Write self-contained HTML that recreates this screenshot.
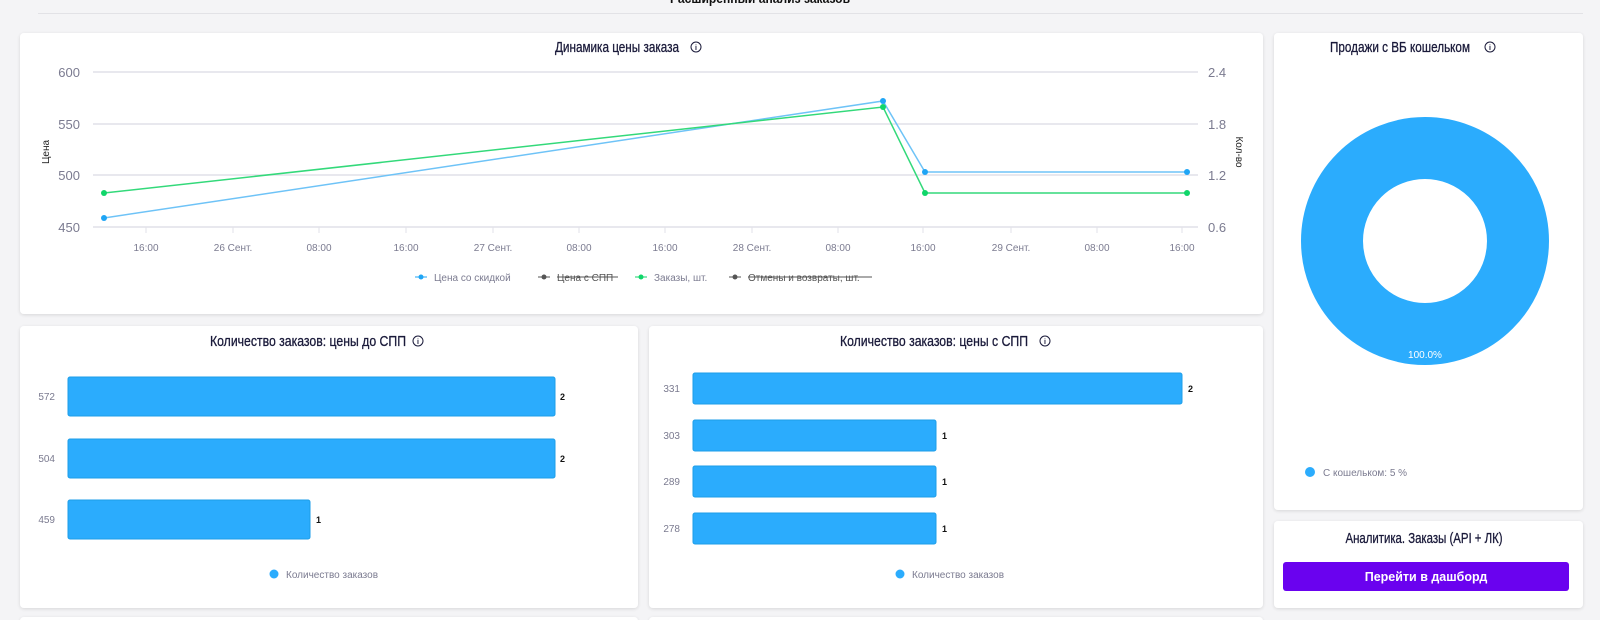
<!DOCTYPE html>
<html><head><meta charset="utf-8"><style>
html,body{margin:0;padding:0;background:#f4f4f6;}
svg{display:block;}
</style></head><body>
<svg width="1600" height="620" viewBox="0 0 1600 620" xmlns="http://www.w3.org/2000/svg" font-family="Liberation Sans, sans-serif">
<defs>
<filter id="sh" x="-5%" y="-5%" width="110%" height="110%"><feDropShadow dx="0" dy="1" stdDeviation="1.5" flood-color="#000" flood-opacity="0.12"/></filter>
</defs>
<rect width="1600" height="620" fill="#f4f4f6"/>
<text x="760" y="3" text-anchor="middle" font-size="14" font-weight="bold" fill="#111" textLength="180" lengthAdjust="spacingAndGlyphs">Расширенный анализ заказов</text>
<line x1="38" y1="13.5" x2="1583" y2="13.5" stroke="#e2e2e6"/>

<g filter="url(#sh)" fill="#fff">
<rect x="20" y="33" width="1243" height="281" rx="4"/>
<rect x="20" y="326" width="618" height="282" rx="4"/>
<rect x="649" y="326" width="614" height="282" rx="4"/>
<rect x="1274" y="33" width="309" height="477" rx="4"/>
<rect x="1274" y="521" width="309" height="87" rx="4"/>
<rect x="20" y="617" width="618" height="10" rx="4"/>
<rect x="649" y="617" width="614" height="10" rx="4"/>
</g>

<g font-size="15" fill="#1a1a3a" stroke="#1a1a3a" stroke-width="0.3">
<text x="617" y="52" text-anchor="middle" textLength="124" lengthAdjust="spacingAndGlyphs">Динамика цены заказа</text>
<text x="308" y="346" text-anchor="middle" textLength="196" lengthAdjust="spacingAndGlyphs">Количество заказов: цены до СПП</text>
<text x="934" y="346" text-anchor="middle" textLength="188" lengthAdjust="spacingAndGlyphs">Количество заказов: цены с СПП</text>
<text x="1400" y="52" text-anchor="middle" textLength="140" lengthAdjust="spacingAndGlyphs">Продажи с ВБ кошельком</text>
<text x="1424" y="543" text-anchor="middle" textLength="157" lengthAdjust="spacingAndGlyphs">Аналитика. Заказы (API + ЛК)</text>
</g>
<g fill="none" stroke="#1a1a3a" stroke-width="1">
<circle cx="696" cy="47" r="5"/><circle cx="418" cy="341" r="5"/><circle cx="1045" cy="341" r="5"/><circle cx="1490" cy="47" r="5"/>
</g>
<g fill="#1a1a3a" font-size="7" text-anchor="middle" font-weight="bold">
<text x="696" y="50">i</text><text x="418" y="344">i</text><text x="1045" y="344">i</text><text x="1490" y="50">i</text>
</g>

<g stroke="#e1e1e8" stroke-width="1.5">
<line x1="93" y1="72" x2="1198" y2="72"/>
<line x1="93" y1="124" x2="1198" y2="124"/>
<line x1="93" y1="175" x2="1198" y2="175"/>
<line x1="93" y1="227" x2="1198" y2="227"/>
</g>
<g stroke="#e1e1e8" stroke-width="1">
<line x1="146" y1="227" x2="146" y2="233"/><line x1="233" y1="227" x2="233" y2="233"/><line x1="319" y1="227" x2="319" y2="233"/><line x1="406" y1="227" x2="406" y2="233"/><line x1="493" y1="227" x2="493" y2="233"/><line x1="579" y1="227" x2="579" y2="233"/><line x1="665" y1="227" x2="665" y2="233"/><line x1="752" y1="227" x2="752" y2="233"/><line x1="838" y1="227" x2="838" y2="233"/><line x1="923" y1="227" x2="923" y2="233"/><line x1="1011" y1="227" x2="1011" y2="233"/><line x1="1097" y1="227" x2="1097" y2="233"/><line x1="1182" y1="227" x2="1182" y2="233"/>
</g>
<g font-size="13" fill="#7b7b90" text-anchor="end">
<text x="80" y="77">600</text><text x="80" y="129">550</text><text x="80" y="180">500</text><text x="80" y="232">450</text>
</g>
<g font-size="13" fill="#7b7b90">
<text x="1208" y="77">2.4</text><text x="1208" y="129">1.8</text><text x="1208" y="180">1.2</text><text x="1208" y="232">0.6</text>
</g>
<text transform="translate(49,152) rotate(-90)" font-size="10" fill="#222" text-anchor="middle">Цена</text>
<text transform="translate(1236,152) rotate(90)" font-size="10" fill="#222" text-anchor="middle">Кол-во</text>
<g font-size="10" fill="#7b7b90" text-anchor="middle">
<text x="146" y="251">16:00</text><text x="233" y="251">26 Сент.</text><text x="319" y="251">08:00</text><text x="406" y="251">16:00</text><text x="493" y="251">27 Сент.</text><text x="579" y="251">08:00</text><text x="665" y="251">16:00</text><text x="752" y="251">28 Сент.</text><text x="838" y="251">08:00</text><text x="923" y="251">16:00</text><text x="1011" y="251">29 Сент.</text><text x="1097" y="251">08:00</text><text x="1182" y="251">16:00</text>
</g>
<polyline points="104,218 883,101 925,172 1187,172" fill="none" stroke="#6ec3f7" stroke-width="1.5"/>
<polyline points="104,193 883,107 925,193 1187,193" fill="none" stroke="#33d97a" stroke-width="1.5"/>
<g fill="#1fa5f5"><circle cx="104" cy="218" r="3"/><circle cx="883" cy="101" r="3"/><circle cx="925" cy="172" r="3"/><circle cx="1187" cy="172" r="3"/></g>
<g fill="#10d66a"><circle cx="104" cy="193" r="3"/><circle cx="883" cy="107" r="3"/><circle cx="925" cy="193" r="3"/><circle cx="1187" cy="193" r="3"/></g>

<g font-size="10">
<line x1="415" y1="277" x2="427" y2="277" stroke="#1fa5f5"/><circle cx="421" cy="277" r="2.5" fill="#1fa5f5"/>
<text x="434" y="281" fill="#7b7b90">Цена со скидкой</text>
<line x1="538" y1="277" x2="550" y2="277" stroke="#555"/><circle cx="544" cy="277" r="2.5" fill="#555"/>
<text x="557" y="281" fill="#555">Цена с СПП</text><line x1="557" y1="277" x2="618" y2="277" stroke="#555"/>
<line x1="635" y1="277" x2="647" y2="277" stroke="#10d66a"/><circle cx="641" cy="277" r="2.5" fill="#10d66a"/>
<text x="654" y="281" fill="#7b7b90">Заказы, шт.</text>
<line x1="729" y1="277" x2="741" y2="277" stroke="#555"/><circle cx="735" cy="277" r="2.5" fill="#555"/>
<text x="748" y="281" fill="#555">Отмены и возвраты, шт.</text><line x1="748" y1="277" x2="872" y2="277" stroke="#555"/>
</g>

<g fill="#2bacfd" stroke="#1e9ee8" stroke-width="1">
<rect x="68" y="377" width="487" height="39" rx="2"/>
<rect x="68" y="439" width="487" height="39" rx="2"/>
<rect x="68" y="500" width="242" height="39" rx="2"/>
<rect x="693" y="373" width="489" height="31" rx="2"/>
<rect x="693" y="420" width="243" height="31" rx="2"/>
<rect x="693" y="466" width="243" height="31" rx="2"/>
<rect x="693" y="513" width="243" height="31" rx="2"/>
</g>
<g font-size="10" fill="#7b7b90" text-anchor="end">
<text x="55" y="400">572</text><text x="55" y="462">504</text><text x="55" y="523">459</text>
<text x="680" y="392">331</text><text x="680" y="439">303</text><text x="680" y="485">289</text><text x="680" y="532">278</text>
</g>
<g font-size="9" font-weight="bold" fill="#111">
<text x="560" y="400">2</text><text x="560" y="462">2</text><text x="316" y="523">1</text>
<text x="1188" y="392">2</text><text x="942" y="439">1</text><text x="942" y="485">1</text><text x="942" y="532">1</text>
</g>
<circle cx="274" cy="574" r="4.5" fill="#2bacfd"/><text x="286" y="578" font-size="10" fill="#7b7b90">Количество заказов</text>
<circle cx="900" cy="574" r="4.5" fill="#2bacfd"/><text x="912" y="578" font-size="10" fill="#7b7b90">Количество заказов</text>

<circle cx="1425" cy="241" r="93" fill="none" stroke="#2bacfd" stroke-width="62"/>
<text x="1425" y="358" font-size="10" fill="#fff" text-anchor="middle">100.0%</text>
<circle cx="1310" cy="472" r="5" fill="#2bacfd"/><text x="1323" y="476" font-size="10" fill="#7b7b90">С кошельком: 5 %</text>

<rect x="1283" y="562" width="286" height="29" rx="3" fill="#6a02ef"/>
<text x="1426" y="581" font-size="12.5" font-weight="bold" fill="#fff" text-anchor="middle">Перейти в дашборд</text>
</svg>
</body></html>
